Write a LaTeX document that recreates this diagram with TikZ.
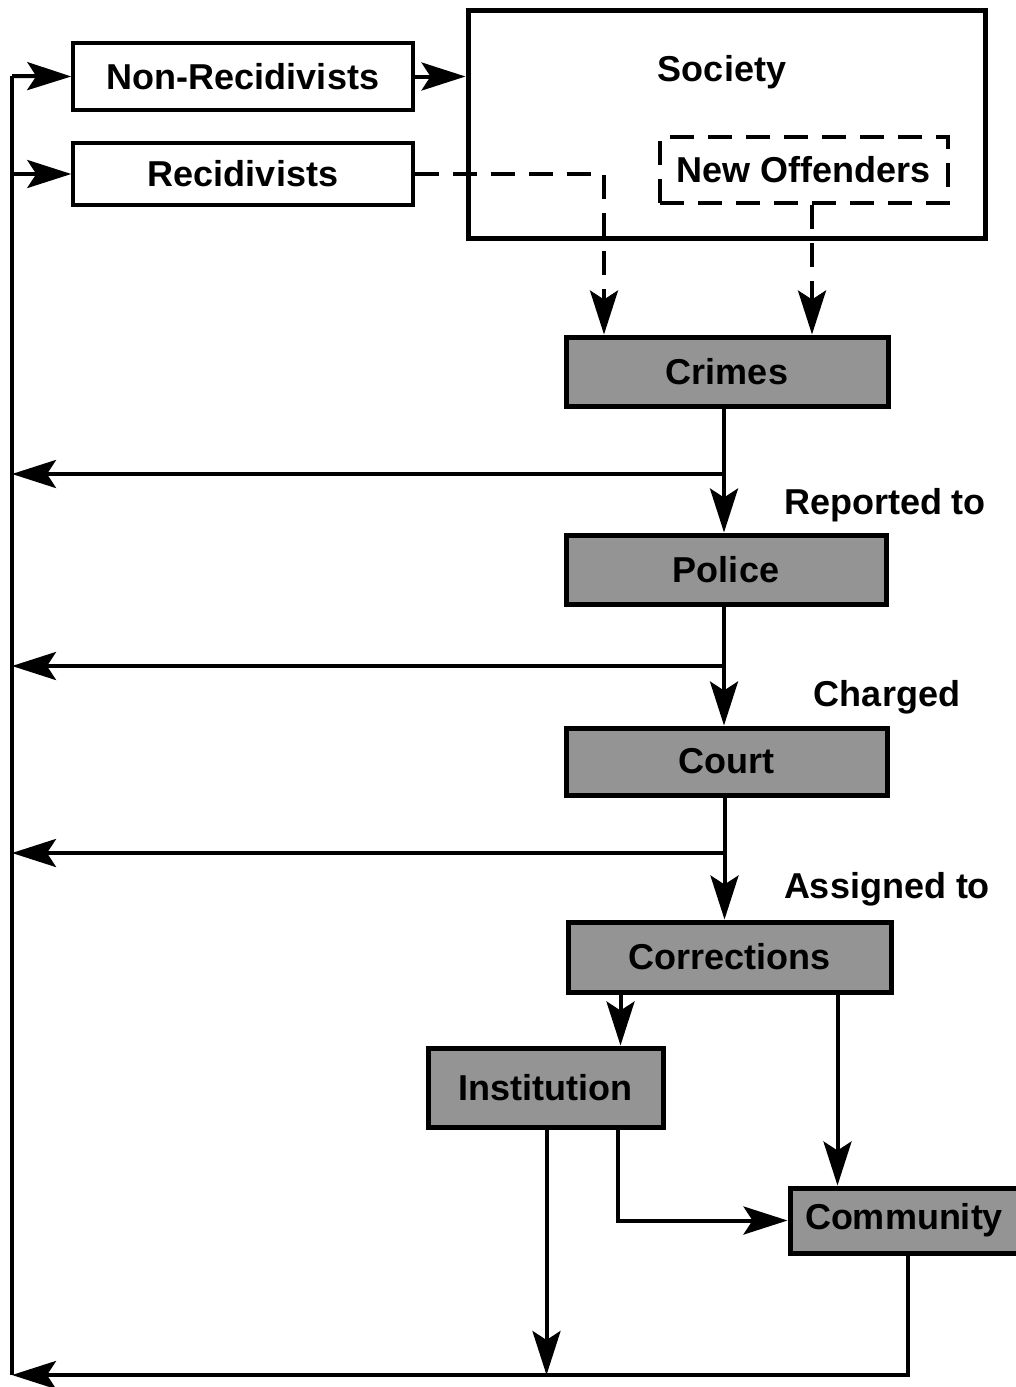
\documentclass[tikz,border=0pt]{standalone}
\usepackage{fontspec}
\setmainfont{Liberation Sans}
\usetikzlibrary{arrows.meta}

\begin{document}
\begin{tikzpicture}[x=1pt,y=-1pt,line width=4pt,
  >={Stealth[length=44pt,width=28pt,inset=9pt]},
  txt/.style={font=\fontsize{36}{40}\bfseries\selectfont},
  wbox/.style={txt,draw,line width=3.5pt,inner sep=0pt},
  gbox/.style={txt,draw,line width=5pt,fill=black!42,inner sep=0pt},
  dashln/.style={dash pattern=on 24pt off 14pt}]
\useasboundingbox (0,0) rectangle (1016,1387);
\def\xl{12}\def\yb{1375}
\coordinate (top) at (\xl,76);
\coordinate (bot) at (\xl,\yb);
\node[wbox,minimum width=340pt,minimum height=67pt] (nonrec) at (243,76.5) {Non-Recidivists};
\node[wbox,minimum width=340pt,minimum height=62pt] (rec) at (243,174) {Recidivists};
\node[draw,line width=5pt,minimum width=517pt,minimum height=228pt] (society) at (726.5,124) {};
\node[txt] at (722,72) {Society};
\node[wbox,dashln,minimum width=288pt,minimum height=66pt] (newoff) at (804,170) {New Offenders};
\node[gbox,minimum width=322pt,minimum height=69pt] (crimes) at (727,371.5) {Crimes};
\node[gbox,minimum width=320pt,minimum height=69pt] (police) at (726,569.5) {Police};
\node[gbox,minimum width=321pt,minimum height=67pt] (court) at (726.5,761.5) {Court};
\node[gbox,minimum width=323pt,minimum height=70pt] (corr) at (729.5,957) {Corrections};
\node[gbox,minimum width=235pt,minimum height=79pt] (inst) at (545.5,1087.5) {Institution};
\node[gbox,minimum width=228pt,minimum height=65pt] (comm) at (904,1220.5) {Community};
\node[txt] at (885,505) {Reported to};
\node[txt] at (887,697) {Charged};
\node[txt] at (887,889) {Assigned to};
\draw (bot) -- (top);
\draw[->] (top) -- (nonrec.west);
\draw[->] (rec.west -| top) -- (rec.west);
\draw[->] (nonrec.east) -- (society.west |- nonrec.east);
\draw[dashln,->] (rec.east) -| ([xshift=-123pt]crimes.north);
\draw[dashln,->] ([xshift=8pt]newoff.south) -- ([xshift=85pt]crimes.north);
\draw[->] ([xshift=-3pt]crimes.south) -- ([xshift=-2pt]police.north);
\draw[->] ([xshift=-2pt]police.south) -- ([xshift=-2pt]police.south |- court.north);
\draw[->] ([xshift=-2pt]court.south) -- ([xshift=-2pt]court.south |- corr.north);
\foreach \a/\y in {crimes/474,police/666,court/853}
  \draw[->] ([xshift=-3pt]\a.south |- 0,\y) -- (\xl,\y);
\draw[->] ([xshift=-109pt]corr.south) -- ([xshift=-109pt]corr.south |- inst.north);
\draw[->] ([xshift=108pt]corr.south) -- ([xshift=108pt]corr.south |- comm.north);
\draw[->] ([xshift=72pt]inst.south) |- (comm.west);
\draw[->] ([xshift=1pt]inst.south) -- ([xshift=1pt]inst.south |- bot);
\draw[->] ([xshift=4pt]comm.south) |- (bot);
\end{tikzpicture}
\end{document}
